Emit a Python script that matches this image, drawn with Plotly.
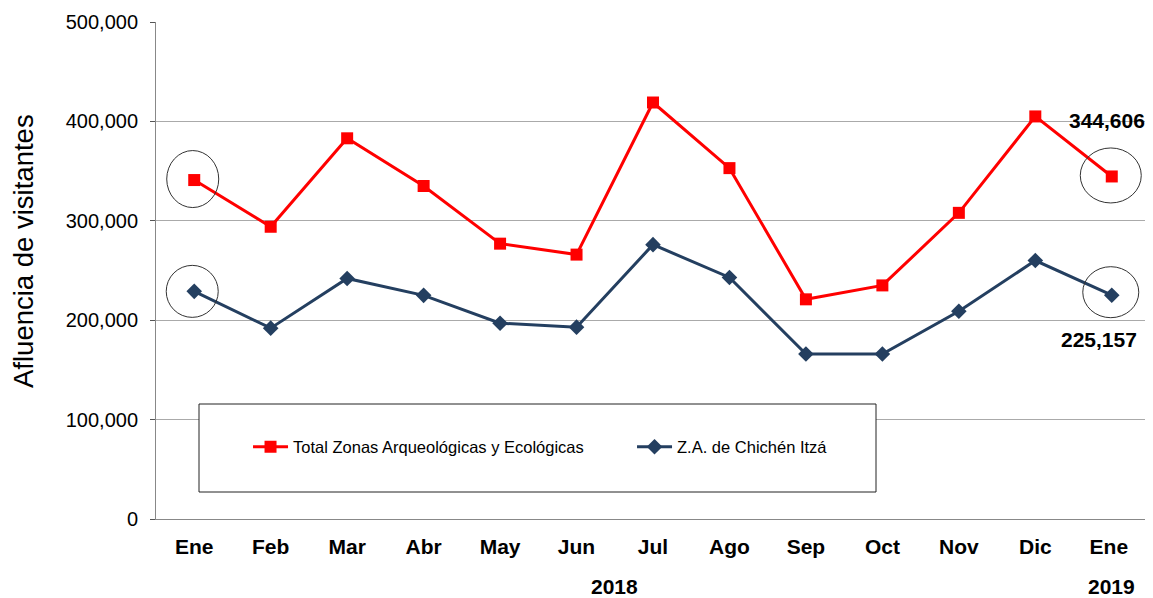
import plotly.graph_objects as go

months = ["Ene", "Feb", "Mar", "Abr", "May", "Jun", "Jul", "Ago", "Sep", "Oct", "Nov", "Dic", "Ene "]
total_zonas = [341000, 294000, 383000, 335000, 277000, 266000, 419000, 353000, 221000, 235000, 308000, 405000, 344606]
chichen_itza = [229000, 192000, 242000, 225000, 197000, 193000, 276000, 243000, 166000, 166000, 209000, 260000, 225157]
y_ticks = [0, 100000, 200000, 300000, 400000, 500000]
y_tick_text = ["0", "100,000", "200,000", "300,000", "400,000", "500,000"]
series_names = ["Total Zonas Arqueológicas y Ecológicas", "Z.A. de Chichén Itzá"]
year_labels = ["2018", "2019"]
y_title = "Afluencia de visitantes"

RED = "#FF0000"
NAVY = "#243F60"
FONT = "Liberation Sans"

PW, PH = 994, 497  # plot area size in px

fig = go.Figure()
fig.add_trace(go.Scatter(
    x=months, y=total_zonas, name=series_names[0], mode="lines+markers",
    line=dict(color=RED, width=3), marker=dict(symbol="square", size=12, color=RED),
))
fig.add_trace(go.Scatter(
    x=months, y=chichen_itza, name=series_names[1], mode="lines+markers",
    line=dict(color=NAVY, width=3), marker=dict(symbol="diamond", size=12, color=NAVY),
))

# circles around first and last points
for idx, val, w, h, dx, dy in [(0, total_zonas[0], 52, 57, -1.5, 1), (12, total_zonas[12], 61, 55, -1, 1),
                               (0, chichen_itza[0], 52, 52, -2, 0), (12, chichen_itza[12], 56, 51, -1, 3)]:
    fig.add_shape(type="circle", xref="x", yref="y", xsizemode="pixel", ysizemode="pixel",
                  xanchor=idx, yanchor=val, x0=-w / 2 + dx, x1=w / 2 + dx, y0=-h / 2 + dy, y1=h / 2 + dy,
                  line=dict(color="#333333", width=1))

# legend box
fig.add_shape(type="rect", xref="paper", yref="paper",
              x0=(199 - 156) / PW, x1=(876 - 156) / PW,
              y0=(519 - 492) / PH, y1=(519 - 404) / PH,
              line=dict(color="#222222", width=1), fillcolor="white", layer="above")

# value annotations
fig.add_annotation(x=12, y=total_zonas[12], text="{:,}".format(total_zonas[12]), showarrow=False,
                   xanchor="right", yanchor="middle", xshift=35, yshift=56,
                   font=dict(family=FONT, size=21, color="black", weight="bold"))
fig.add_annotation(x=12, y=chichen_itza[12], text="{:,}".format(chichen_itza[12]), showarrow=False,
                   xanchor="right", yanchor="middle", xshift=27, yshift=-44,
                   font=dict(family=FONT, size=21, color="black", weight="bold"))

# year labels
for xpos, txt in [(5.5, year_labels[0]), (12, year_labels[1])]:
    fig.add_annotation(x=xpos, y=0, yref="paper", text=txt, showarrow=False, yanchor="middle", yshift=-67,
                       font=dict(family=FONT, size=21, color="black", weight="bold"))

# y-axis title
fig.add_annotation(xref="paper", yref="paper", x=-(156 - 23) / PW, y=(519 - 251) / PH, text=y_title,
                   textangle=-90, showarrow=False, xanchor="center", yanchor="middle",
                   font=dict(family=FONT, size=27.5, color="black"))

fig.update_layout(
    width=1145, height=590,
    margin=dict(l=148, r=3, t=14, b=79),
    paper_bgcolor="white", plot_bgcolor="white",
    showlegend=True,
    legend=dict(orientation="h", x=(253 - 156) / PW - 0.005, y=(519 - 447) / PH, xanchor="left", yanchor="middle",
                bgcolor="rgba(0,0,0,0)", borderwidth=0, entrywidth=334, entrywidthmode="pixels",
                itemwidth=35,
                font=dict(family=FONT, size=16.5, color="black")),
    xaxis=dict(
        type="category", range=[-0.5, 12.5], showgrid=False,
        showline=True, linecolor="#888888", linewidth=1,
        ticks="", ticklabelstandoff=9,
        tickfont=dict(family=FONT, size=21, color="black", weight="bold"),
    ),
    yaxis=dict(
        range=[0, 500000], tickvals=y_ticks, ticktext=y_tick_text,
        showgrid=True, gridcolor="#AAAAAA", gridwidth=1,
        showline=True, linecolor="#888888", linewidth=1, mirror=True,
        ticks="outside", ticklen=5, tickcolor="#555555", ticklabelstandoff=8,
        tickfont=dict(family=FONT, size=20, color="black"),
        zeroline=False,
    ),
)

fig.write_html("out.html")
